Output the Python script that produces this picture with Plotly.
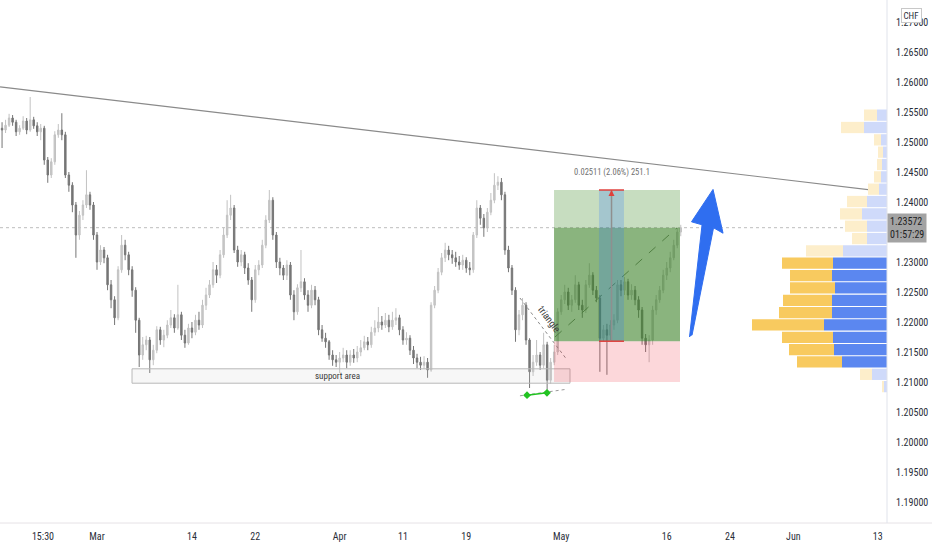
import plotly.graph_objects as go

# ---------------- data ----------------
# time axis: trading days counted from 1 Mar (weekends removed), 3 bars per day
X_START = -9.0
BARS_PER_DAY = 3
FIRST_OPEN = 1.2523

CLOSES = [
    1.2520, 1.2528, 1.2540, 1.2533, 1.2517, 1.2523, 1.2535, 1.2520, 1.2537, 1.2527,
    1.2517, 1.2523, 1.2470, 1.2445, 1.2467, 1.2512, 1.2520, 1.2512, 1.2445, 1.2428,
    1.2395, 1.2345, 1.2378, 1.2395, 1.2412, 1.2395, 1.2345, 1.2300, 1.2320, 1.2307,
    1.2262, 1.2237, 1.2207, 1.2287, 1.2328, 1.2312, 1.2287, 1.2253, 1.2203, 1.2145,
    1.2162, 1.2170, 1.2137, 1.2153, 1.2187, 1.2170, 1.2178, 1.2195, 1.2207, 1.2190,
    1.2212, 1.2178, 1.2165, 1.2190, 1.2183, 1.2203, 1.2195, 1.2228, 1.2245, 1.2262,
    1.2287, 1.2278, 1.2312, 1.2345, 1.2378, 1.2390, 1.2320, 1.2300, 1.2312, 1.2290,
    1.2270, 1.2237, 1.2287, 1.2295, 1.2328, 1.2370, 1.2403, 1.2345, 1.2300, 1.2290,
    1.2278, 1.2295, 1.2245, 1.2217, 1.2257, 1.2267, 1.2245, 1.2228, 1.2253, 1.2237,
    1.2187, 1.2173, 1.2167, 1.2145, 1.2137, 1.2133, 1.2140, 1.2145, 1.2133, 1.2145,
    1.2140, 1.2150, 1.2157, 1.2167, 1.2162, 1.2183, 1.2190, 1.2200, 1.2195, 1.2203,
    1.2192, 1.2203, 1.2207, 1.2187, 1.2170, 1.2173, 1.2153, 1.2140, 1.2133, 1.2128,
    1.2133, 1.2120, 1.2228, 1.2253, 1.2283, 1.2307, 1.2320, 1.2312, 1.2307, 1.2300,
    1.2295, 1.2303, 1.2290, 1.2287, 1.2345, 1.2390, 1.2373, 1.2357, 1.2383, 1.2403,
    1.2428, 1.2433, 1.2412, 1.2320, 1.2290, 1.2253, 1.2187, 1.2212, 1.2228, 1.2170,
    1.2117, 1.2133, 1.2145, 1.2128, 1.2162, 1.2103, 1.2133, 1.2150, 1.2217, 1.2237,
    1.2250, 1.2228, 1.2237, 1.2262, 1.2228, 1.2220, 1.2262, 1.2278, 1.2253, 1.2240,
    1.2173, 1.2187, 1.2178, 1.2195, 1.2203, 1.2262, 1.2253, 1.2267, 1.2245, 1.2253,
    1.2237, 1.2220, 1.2173, 1.2162, 1.2170, 1.2220, 1.2237, 1.2253, 1.2278, 1.2290,
    1.2307, 1.2328, 1.2350, 1.23572,
]

HIGHS = [
    1.2533, 1.2537, 1.2547, 1.2545, 1.2537, 1.2528, 1.2543, 1.2540, 1.2575, 1.2542,
    1.2533, 1.2530, 1.2527, 1.2475, 1.2473, 1.2518, 1.2530, 1.2548, 1.2517, 1.2450,
    1.2433, 1.2400, 1.2385, 1.2403, 1.2453, 1.2417, 1.2400, 1.2350, 1.2328, 1.2325,
    1.2312, 1.2270, 1.2243, 1.2293, 1.2345, 1.2337, 1.2317, 1.2293, 1.2258, 1.2207,
    1.2175, 1.2177, 1.2175, 1.2162, 1.2193, 1.2192, 1.2187, 1.2203, 1.2220, 1.2213,
    1.2262, 1.2217, 1.2187, 1.2197, 1.2200, 1.2212, 1.2217, 1.2237, 1.2257, 1.2270,
    1.2300, 1.2295, 1.2320, 1.2357, 1.2403, 1.2412, 1.2395, 1.2327, 1.2320, 1.2317,
    1.2298, 1.2275, 1.2295, 1.2303, 1.2337, 1.2378, 1.2420, 1.2408, 1.2350, 1.2307,
    1.2295, 1.2303, 1.2300, 1.2253, 1.2263, 1.2320, 1.2273, 1.2253, 1.2262, 1.2260,
    1.2242, 1.2195, 1.2182, 1.2170, 1.2153, 1.2145, 1.2150, 1.2157, 1.2153, 1.2153,
    1.2155, 1.2160, 1.2170, 1.2177, 1.2175, 1.2192, 1.2203, 1.2225, 1.2210, 1.2215,
    1.2212, 1.2217, 1.2223, 1.2212, 1.2193, 1.2183, 1.2178, 1.2160, 1.2147, 1.2142,
    1.2143, 1.2140, 1.2233, 1.2260, 1.2290, 1.2315, 1.2332, 1.2327, 1.2320, 1.2317,
    1.2310, 1.2312, 1.2308, 1.2300, 1.2350, 1.2403, 1.2395, 1.2380, 1.2390, 1.2415,
    1.2448, 1.2443, 1.2440, 1.2417, 1.2327, 1.2295, 1.2258, 1.2220, 1.2240, 1.2233,
    1.2173, 1.2145, 1.2170, 1.2150, 1.2182, 1.2167, 1.2140, 1.2162, 1.2223, 1.2245,
    1.2262, 1.2257, 1.2245, 1.2278, 1.2267, 1.2237, 1.2270, 1.2298, 1.2283, 1.2260,
    1.2245, 1.2195, 1.2197, 1.2203, 1.2213, 1.2270, 1.2270, 1.2275, 1.2272, 1.2263,
    1.2260, 1.2243, 1.2225, 1.2180, 1.2178, 1.2227, 1.2245, 1.2260, 1.2287, 1.2300,
    1.2317, 1.2337, 1.2357, 1.2362,
]

LOWS = [
    1.2490, 1.2515, 1.2525, 1.2527, 1.2510, 1.2512, 1.2520, 1.2513, 1.2517, 1.2522,
    1.2510, 1.2503, 1.2462, 1.2432, 1.2440, 1.2462, 1.2507, 1.2503, 1.2440, 1.2417,
    1.2383, 1.2307, 1.2337, 1.2370, 1.2390, 1.2387, 1.2337, 1.2287, 1.2295, 1.2298,
    1.2253, 1.2223, 1.2195, 1.2203, 1.2282, 1.2303, 1.2278, 1.2242, 1.2182, 1.2125,
    1.2137, 1.2153, 1.2115, 1.2128, 1.2148, 1.2162, 1.2158, 1.2173, 1.2190, 1.2182,
    1.2187, 1.2170, 1.2157, 1.2162, 1.2173, 1.2178, 1.2187, 1.2190, 1.2220, 1.2240,
    1.2257, 1.2265, 1.2273, 1.2307, 1.2340, 1.2370, 1.2315, 1.2292, 1.2293, 1.2280,
    1.2262, 1.2217, 1.2232, 1.2278, 1.2290, 1.2323, 1.2365, 1.2337, 1.2290, 1.2278,
    1.2270, 1.2270, 1.2237, 1.2203, 1.2212, 1.2250, 1.2237, 1.2217, 1.2223, 1.2228,
    1.2178, 1.2167, 1.2157, 1.2137, 1.2127, 1.2125, 1.2115, 1.2133, 1.2123, 1.2127,
    1.2132, 1.2133, 1.2143, 1.2153, 1.2153, 1.2157, 1.2177, 1.2183, 1.2187, 1.2190,
    1.2183, 1.2187, 1.2195, 1.2178, 1.2162, 1.2162, 1.2145, 1.2130, 1.2123, 1.2120,
    1.2122, 1.2107, 1.2117, 1.2223, 1.2248, 1.2278, 1.2300, 1.2303, 1.2297, 1.2292,
    1.2287, 1.2287, 1.2282, 1.2278, 1.2282, 1.2340, 1.2362, 1.2342, 1.2350, 1.2378,
    1.2398, 1.2420, 1.2403, 1.2312, 1.2283, 1.2245, 1.2167, 1.2178, 1.2203, 1.2162,
    1.2090, 1.2110, 1.2127, 1.2120, 1.2123, 1.2087, 1.2097, 1.2128, 1.2145, 1.2212,
    1.2230, 1.2220, 1.2217, 1.2232, 1.2220, 1.2207, 1.2215, 1.2257, 1.2245, 1.2233,
    1.2117, 1.2167, 1.2112, 1.2170, 1.2187, 1.2198, 1.2243, 1.2245, 1.2237, 1.2237,
    1.2228, 1.2207, 1.2162, 1.2150, 1.2133, 1.2162, 1.2212, 1.2232, 1.2248, 1.2270,
    1.2283, 1.2303, 1.2323, 1.2343,
]

# x-axis ticks (trading-day positions) and labels
X_TICK_VALS = [-5.12, 0, 9, 15, 23, 29, 35, 44, 54, 60, 66, 74]
X_TICK_TEXT = ["15:30", "Mar", "14", "22", "Apr", "11", "19", "May", "16", "24", "Jun", "13"]
X_RANGE = [-9.194, 74.88]

# y-axis ticks
Y_TICK_VALS = [1.190, 1.195, 1.200, 1.205, 1.210, 1.215, 1.220, 1.225, 1.230,
               1.240, 1.245, 1.250, 1.255, 1.260, 1.265, 1.270]
Y_RANGE = [1.18650, 1.27367]
LAST_PRICE = 1.23572
LAST_TIME = "01:57:29"

# volume profile rows (price centres, bottom to top), up / down volume
VP_PRICES = [1.20923, 1.21128, 1.21334, 1.21540, 1.21745, 1.21951, 1.22157, 1.22362,
             1.22568, 1.22774, 1.22980, 1.23185, 1.23391, 1.23597, 1.23802, 1.24008,
             1.24214, 1.24419, 1.24625, 1.24831, 1.25036, 1.25242, 1.25448]
VP_UP = [3, 15, 45, 53, 54, 63, 55, 55, 52, 55, 54, 44, 20, 20, 25, 20, 8, 6, 5, 4, 6, 23, 10]
VP_DOWN = [2, 12, 45, 45, 51, 72, 53, 49, 45, 42, 51, 37, 15, 22, 22, 20, 11, 7, 5, 5, 7, 23, 13]
VP_VALUE_AREA = [False, False, True, True, True, True, True, True, True, True, True,
                 False, False, False, False, False, False, False, False, False, False,
                 False, False]

# drawings (time in trading days, price)
TREND_X = [-9.19, 74.88]
TREND_Y = [1.2592, 1.2417]
SUPPORT = dict(x0=3.32, x1=44.83, y0=1.2098, y1=1.2122, label="support area")
POSITION = dict(x0=43.32, x1=55.26, entry=1.2168, target=1.2420, stop=1.2100)
RANGE_BAND = dict(x0=47.58, x1=49.95, xm=48.77)
RANGE_TEXT = "0.02511 (2.06%) 251.1"
RANGE_TEXT_Y = 1.2450
POS_DIAG_X = [43.41, 54.98]
POS_DIAG_Y = [1.2175, 1.2357]
TRI_X = [40.09, 44.55]
TRI_Y = [1.2240, 1.2137]
TRI_LABEL = dict(x=42.88, y=1.2204, text="triangle")
PIN_X = [40.76, 42.65]
PIN_Y = [1.2078, 1.2082]
PIN_DOT_X = [40.09, 44.55]
PIN_DOT_Y = [1.2077, 1.2088]
ARROW_X = [56.16, 57.35, 56.35, 58.39, 59.34, 58.44, 56.40]
ARROW_Y = [1.2175, 1.2362, 1.2367, 1.2421, 1.2348, 1.2357, 1.2178]

# ---------------- figure ----------------
opens = [FIRST_OPEN] + CLOSES[:-1]
times = [X_START + i / BARS_PER_DAY for i in range(len(CLOSES))]

FONT = "Liberation Sans Narrow, Roboto Condensed, Arial Narrow, Liberation Sans, sans-serif"
TXT = "#2a2e39"

fig = go.Figure()

# volume profile (own x axis, growing leftwards from the price scale)
up_cols = ["#5b87f0" if v else "#cfdafa" for v in VP_VALUE_AREA]
dn_cols = ["#f8ca5f" if v else "#fdeecb" for v in VP_VALUE_AREA]
fig.add_trace(go.Bar(y=VP_PRICES, x=VP_UP, base=0, orientation="h", width=0.00188,
                     marker=dict(color=up_cols, line=dict(width=0)), xaxis="x2",
                     hoverinfo="skip", showlegend=False))
fig.add_trace(go.Bar(y=VP_PRICES, x=VP_DOWN, base=VP_UP, orientation="h", width=0.00188,
                     marker=dict(color=dn_cols, line=dict(width=0)), xaxis="x2",
                     hoverinfo="skip", showlegend=False))

fig.add_trace(go.Candlestick(
    x=times, open=opens, high=HIGHS, low=LOWS, close=CLOSES,
    increasing=dict(line=dict(color="#c2c2c2", width=1), fillcolor="#c8c8c8"),
    decreasing=dict(line=dict(color="#767676", width=1), fillcolor="#767676"),
    whiskerwidth=0, hoverinfo="skip", showlegend=False))

# trend line
fig.add_trace(go.Scatter(x=TREND_X, y=TREND_Y, mode="lines",
                         line=dict(color="#8a8a8a", width=1.2),
                         hoverinfo="skip", showlegend=False))

shapes = []
# current price dotted line
shapes.append(dict(type="line", xref="paper", x0=0, x1=1, yref="y", y0=LAST_PRICE, y1=LAST_PRICE,
                   line=dict(color="#bdbdbd", width=1, dash="dot"), layer="below"))
# support area
shapes.append(dict(type="rect", xref="x", yref="y", x0=SUPPORT["x0"], x1=SUPPORT["x1"],
                   y0=SUPPORT["y0"], y1=SUPPORT["y1"], fillcolor="rgba(200,200,200,0.15)",
                   line=dict(color="#b8b8b8", width=1), layer="above"))
# long position: stop zone, profit zone (reached part darker)
P = POSITION
shapes.append(dict(type="rect", x0=P["x0"], x1=P["x1"], y0=P["stop"], y1=P["entry"],
                   fillcolor="rgba(242,54,69,0.2)", line=dict(width=0), layer="above"))
shapes.append(dict(type="rect", x0=P["x0"], x1=P["x1"], y0=LAST_PRICE, y1=P["target"],
                   fillcolor="rgba(100,160,80,0.36)", line=dict(width=0), layer="above"))
shapes.append(dict(type="rect", x0=P["x0"], x1=P["x1"], y0=P["entry"], y1=LAST_PRICE,
                   fillcolor="rgba(60,130,40,0.6)", line=dict(width=0), layer="above"))
# date & price range band
R = RANGE_BAND
shapes.append(dict(type="rect", x0=R["x0"], x1=R["x1"], y0=P["entry"], y1=P["target"],
                   fillcolor="rgba(41,120,255,0.22)", line=dict(width=0), layer="above"))
shapes.append(dict(type="line", x0=R["xm"], x1=R["xm"], y0=P["entry"], y1=P["target"],
                   line=dict(color="#8f8f8f", width=1.5), layer="above"))
for yy in (P["entry"], P["target"]):
    shapes.append(dict(type="line", x0=R["x0"], x1=R["x1"], y0=yy, y1=yy,
                       line=dict(color="#e0403c", width=1.5), layer="above"))
# axis frame lines
shapes.append(dict(type="line", xref="paper", yref="paper", x0=0, x1=1.06, y0=0, y1=0,
                   line=dict(color="#e6e2e6", width=1)))
shapes.append(dict(type="line", xref="paper", yref="paper", x0=1, x1=1, y0=0, y1=1,
                   line=dict(color="#e0e3eb", width=1)))

# diagonal dashed line inside position
fig.add_trace(go.Scatter(x=POS_DIAG_X, y=POS_DIAG_Y, mode="lines",
                         line=dict(color="#6e7a6a", width=1, dash="dash"),
                         hoverinfo="skip", showlegend=False))
# triangle line
fig.add_trace(go.Scatter(x=TRI_X, y=TRI_Y, mode="lines",
                         line=dict(color="#8a8a8a", width=1, dash="dot"),
                         hoverinfo="skip", showlegend=False))
# pins
fig.add_trace(go.Scatter(x=PIN_DOT_X, y=PIN_DOT_Y, mode="lines",
                         line=dict(color="#9a9a9a", width=1, dash="dot"),
                         hoverinfo="skip", showlegend=False))
fig.add_trace(go.Scatter(x=PIN_X, y=PIN_Y, mode="lines+markers",
                         line=dict(color="#22c322", width=1.5),
                         marker=dict(symbol="diamond", size=6, color="#22c322"),
                         hoverinfo="skip", showlegend=False))
# blue arrow
fig.add_trace(go.Scatter(x=ARROW_X, y=ARROW_Y, mode="lines", fill="toself",
                         fillcolor="#2f6ef0", line=dict(color="#2f6ef0", width=1),
                         hoverinfo="skip", showlegend=False))

annotations = [
    dict(x=SUPPORT["x0"] + (SUPPORT["x1"] - SUPPORT["x0"]) * 0.47,
         y=(SUPPORT["y0"] + SUPPORT["y1"]) / 2, text=SUPPORT["label"], showarrow=False,
         font=dict(family=FONT, size=9, color="#3a3a3a")),
    dict(x=TRI_LABEL["x"], y=TRI_LABEL["y"], text=TRI_LABEL["text"], showarrow=False,
         textangle=53, font=dict(family=FONT, size=10, color="#3a3a3a")),
    dict(x=R["xm"], y=RANGE_TEXT_Y, text=RANGE_TEXT, showarrow=False,
         font=dict(family=FONT, size=8.5, color="#707070")),
    dict(x=R["xm"], y=P["target"], ax=R["xm"], ay=P["target"] - 0.0012, axref="x", ayref="y",
         showarrow=True, arrowhead=2, arrowsize=1, arrowwidth=1.2, arrowcolor="#e0403c", text=""),
    # last price label on the price scale
    dict(xref="paper", x=1.0, yref="y", y=LAST_PRICE, xanchor="left", yanchor="middle",
         text="%.5f<br>%s" % (LAST_PRICE, LAST_TIME), showarrow=False, align="left",
         bgcolor="#a3a3a3", borderpad=2, font=dict(family=FONT, size=10, color="#1e1e1e")),
    # currency badge
    dict(xref="paper", x=1.0275, yref="paper", y=0.971, xanchor="center", yanchor="middle",
         text="CHF", showarrow=False,
         bgcolor="#ffffff", bordercolor="#c8c8c8", borderwidth=1, borderpad=1.5,
         font=dict(family=FONT, size=9, color="#2a2e39")),
]

fig.update_layout(
    width=932, height=550,
    margin=dict(l=0, r=45, t=0, b=27),
    paper_bgcolor="#ffffff", plot_bgcolor="#ffffff",
    barmode="overlay", boxgap=0.42, showlegend=False,
    shapes=shapes, annotations=annotations,
    xaxis=dict(range=X_RANGE, tickvals=X_TICK_VALS, ticktext=X_TICK_TEXT,
               showgrid=False, zeroline=False, showline=False, ticks="",
               ticklabelstandoff=6, rangeslider=dict(visible=False),
               tickfont=dict(family=FONT, size=10, color=TXT), fixedrange=True),
    xaxis2=dict(overlaying="x", range=[887, 0], visible=False, fixedrange=True),
    yaxis=dict(range=Y_RANGE, side="right", tickvals=Y_TICK_VALS,
               tickformat=".5f", showgrid=False, zeroline=False, showline=False,
               ticks="", ticklabelstandoff=8,
               tickfont=dict(family=FONT, size=10, color=TXT), fixedrange=True),
)

fig.write_html("out.html", config=dict(displayModeBar=False),
               post_script="document.body.style.margin='0';document.body.style.overflow='hidden';")
